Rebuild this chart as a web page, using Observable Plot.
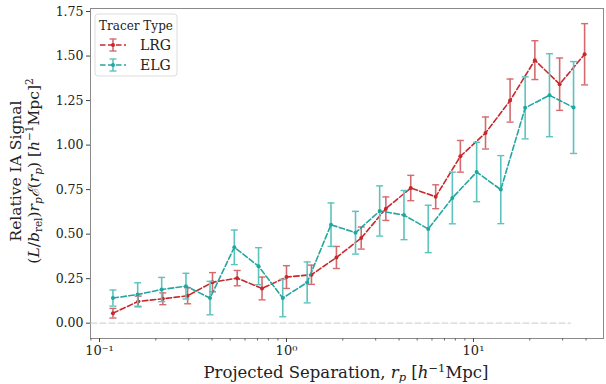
<!DOCTYPE html>
<html>
<head>
<meta charset="utf-8">
<script src="https://cdn.jsdelivr.net/npm/d3@7"></script>
<script src="https://cdn.jsdelivr.net/npm/@observablehq/plot@0.6"></script>
<style>
  html, body { margin: 0; padding: 0; background: #fff; }
  svg { display: block; }
</style>
</head>
<body>
<div id="chart"></div>
<script>
// ---- data ----
const lrgRp   = [0.118, 0.161, 0.218, 0.296, 0.402, 0.545, 0.740, 1.00, 1.36, 1.85, 2.51, 3.40, 4.62, 6.28, 8.51, 11.6, 15.7, 21.3, 28.9, 39.3];
const lrgVal  = [0.056, 0.122, 0.137, 0.154, 0.230, 0.253, 0.195, 0.259, 0.272, 0.369, 0.478, 0.643, 0.759, 0.710, 0.937, 1.068, 1.250, 1.477, 1.342, 1.510];
const lrgErr  = [0.027, 0.030, 0.033, 0.045, 0.054, 0.043, 0.064, 0.064, 0.054, 0.062, 0.062, 0.066, 0.071, 0.067, 0.089, 0.090, 0.121, 0.109, 0.147, 0.172];
const elgRp   = [0.118, 0.160, 0.215, 0.290, 0.390, 0.526, 0.709, 0.955, 1.29, 1.73, 2.34, 3.15, 4.25, 5.73, 7.71, 10.4, 14.0, 18.9, 25.5, 34.3];
const elgVal  = [0.141, 0.161, 0.189, 0.208, 0.141, 0.426, 0.320, 0.141, 0.229, 0.553, 0.508, 0.630, 0.607, 0.529, 0.703, 0.849, 0.750, 1.209, 1.280, 1.211];
const elgErr  = [0.045, 0.066, 0.068, 0.072, 0.094, 0.097, 0.104, 0.105, 0.115, 0.122, 0.120, 0.141, 0.138, 0.133, 0.145, 0.167, 0.191, 0.174, 0.233, 0.258];
const tracers = ["LRG", "ELG"];
const yTicks  = [0, 0.25, 0.5, 0.75, 1.0, 1.25, 1.5, 1.75];
const xMajor  = [0.1, 1, 10];
const xMajorLabels = ["10\u207B\u00B9", "10\u2070", "10\u00B9"];
const xMinor  = [0.09, 0.2, 0.3, 0.4, 0.5, 0.6, 0.7, 0.8, 0.9, 2, 3, 4, 5, 6, 7, 8, 9, 20, 30, 40];
const zeroLineX = [0.09, 33];

const colors = { LRG: "#c7282c", ELG: "#22a6a0" };
const errColors = { LRG: "#d56a6e", ELG: "#5cc3be" };

const rows = [];
lrgRp.forEach((x, i) => rows.push({ tracer: "LRG", x, y: lrgVal[i], lo: lrgVal[i] - lrgErr[i], hi: lrgVal[i] + lrgErr[i] }));
elgRp.forEach((x, i) => rows.push({ tracer: "ELG", x, y: elgVal[i], lo: elgVal[i] - elgErr[i], hi: elgVal[i] + elgErr[i] }));

const capSymbol = { draw(ctx) { ctx.moveTo(-3.5, 0); ctx.lineTo(3.5, 0); } };
const serif = "DejaVu Serif, serif";
const labelOf = new Map(xMajor.map((v, i) => [v, xMajorLabels[i]]));

const marks = [
  Plot.frame({ stroke: "#8a8a8a", strokeWidth: 1 }),
  Plot.line(zeroLineX.map(x => ({ x, y: 0 })), { x: "x", y: "y", stroke: "#d6d6d6", strokeWidth: 1.2, strokeDasharray: "6,3" })
];
for (const t of tracers) {
  const d = rows.filter(r => r.tracer === t);
  marks.push(
    Plot.ruleX(d, { x: "x", y1: "lo", y2: "hi", stroke: errColors[t], strokeWidth: 1.6 }),
    Plot.dot(d, { x: "x", y: "lo", symbol: capSymbol, stroke: errColors[t], strokeWidth: 1.4, r: 4 }),
    Plot.dot(d, { x: "x", y: "hi", symbol: capSymbol, stroke: errColors[t], strokeWidth: 1.4, r: 4 }),
    Plot.line(d, { x: "x", y: "y", stroke: colors[t], strokeWidth: 1.6, strokeDasharray: "5.5,2.5" }),
    Plot.dot(d, { x: "x", y: "y", fill: colors[t], r: 2 })
  );
}
marks.push(
  Plot.axisY(yTicks, { tickFormat: d => d.toFixed(2), fontSize: 12.5, fontFamily: serif, fill: "#222", tickSize: 4, tickPadding: 3, label: null, stroke: "#444" }),
  Plot.axisX(xMinor, { tickFormat: () => "", tickSize: 2.5, label: null, stroke: "#666" }),
  Plot.axisX(xMajor, { tickFormat: d => labelOf.get(d), fontSize: 13, fontFamily: serif, fill: "#222", tickSize: 4, tickPadding: 3, label: null, stroke: "#444" })
);

const plot = Plot.plot({
  width: 606,
  height: 384,
  marginLeft: 90,
  marginRight: 3,
  marginTop: 8,
  marginBottom: 46,
  x: { type: "log", domain: [0.0895, 49.6] },
  y: { domain: [-0.086, 1.767] },
  style: { fontFamily: serif, background: "#fff" },
  marks
});
document.getElementById("chart").appendChild(plot);

// ---- axis labels and legend (text) ----
const svg = d3.select(plot);
const xl = svg.append("text").attr("x", 346).attr("y", 378).attr("text-anchor", "middle")
  .attr("font-family", serif).attr("font-size", 16.5).attr("fill", "#222");
xl.append("tspan").text("Projected Separation, ");
xl.append("tspan").attr("font-style", "italic").text("r");
xl.append("tspan").attr("font-style", "italic").attr("font-size", 11.5).attr("dy", 3).text("p");
xl.append("tspan").attr("dy", -3).text(" [");
xl.append("tspan").attr("font-style", "italic").text("h");
xl.append("tspan").attr("font-size", 11.5).attr("dy", -6).text("\u22121");
xl.append("tspan").attr("dy", 6).text("Mpc]");

const yl = svg.append("g").attr("transform", "translate(21,171) rotate(-90)");
yl.append("text").attr("text-anchor", "middle").attr("font-family", serif).attr("font-size", 15.5).attr("fill", "#222")
  .text("Relative IA Signal");
const y2 = yl.append("text").attr("y", 18).attr("text-anchor", "middle").attr("font-family", serif).attr("font-size", 15.5).attr("fill", "#222");
y2.append("tspan").text("(");
y2.append("tspan").attr("font-style", "italic").text("L");
y2.append("tspan").text("/");
y2.append("tspan").attr("font-style", "italic").text("b");
y2.append("tspan").attr("font-size", 10.5).attr("dy", 3).text("rel");
y2.append("tspan").attr("dy", -3).text(")");
y2.append("tspan").attr("font-style", "italic").text("r");
y2.append("tspan").attr("font-style", "italic").attr("font-size", 10.5).attr("dy", 3).text("p");
y2.append("tspan").attr("dy", -3).attr("font-style", "italic").text("\u2130");
y2.append("tspan").text("(");
y2.append("tspan").attr("font-style", "italic").text("r");
y2.append("tspan").attr("font-style", "italic").attr("font-size", 10.5).attr("dy", 3).text("p");
y2.append("tspan").attr("dy", -3).text(") [");
y2.append("tspan").attr("font-style", "italic").text("h");
y2.append("tspan").attr("font-size", 10.5).attr("dy", -6).text("\u22121");
y2.append("tspan").attr("dy", 6).text("Mpc]");
y2.append("tspan").attr("font-size", 10.5).attr("dy", -6).text("2");

const lg = svg.append("g").attr("transform", "translate(95,14)");
lg.append("rect").attr("width", 82).attr("height", 62).attr("rx", 3).attr("fill", "#fff").attr("fill-opacity", 0.85)
  .attr("stroke", "#dcdcdc").attr("stroke-width", 1);
lg.append("text").attr("x", 41).attr("y", 16).attr("text-anchor", "middle").attr("font-family", serif)
  .attr("font-size", 12).attr("fill", "#222").text("Tracer Type");
tracers.forEach((t, i) => {
  const yy = 31 + i * 20;
  lg.append("line").attr("x1", 5).attr("x2", 31).attr("y1", yy).attr("y2", yy)
    .attr("stroke", colors[t]).attr("stroke-width", 1.6).attr("stroke-dasharray", "5.5,2.5");
  lg.append("line").attr("x1", 18).attr("x2", 18).attr("y1", yy - 6).attr("y2", yy + 6).attr("stroke", errColors[t]).attr("stroke-width", 1.6);
  lg.append("line").attr("x1", 14.5).attr("x2", 21.5).attr("y1", yy - 6).attr("y2", yy - 6).attr("stroke", errColors[t]).attr("stroke-width", 1.4);
  lg.append("line").attr("x1", 14.5).attr("x2", 21.5).attr("y1", yy + 6).attr("y2", yy + 6).attr("stroke", errColors[t]).attr("stroke-width", 1.4);
  lg.append("circle").attr("cx", 18).attr("cy", yy).attr("r", 2).attr("fill", colors[t]);
  lg.append("text").attr("x", 45).attr("y", yy + 5).attr("text-anchor", "start").attr("font-family", serif).attr("font-size", 14).attr("fill", "#222").text(t);
});
</script>
</body>
</html>
